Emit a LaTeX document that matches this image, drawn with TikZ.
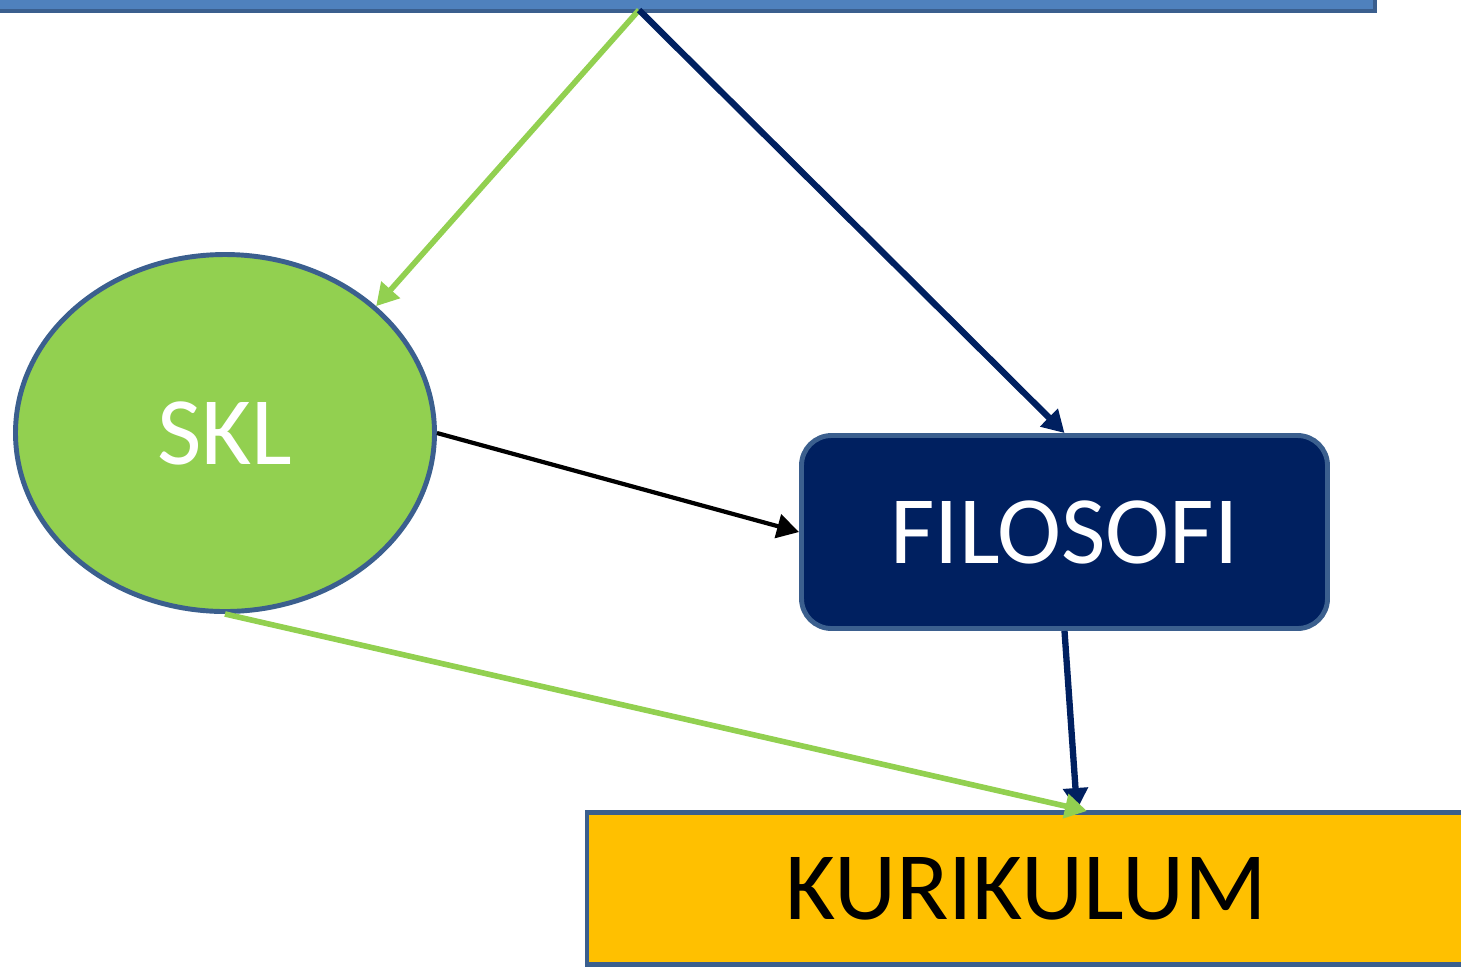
\documentclass[tikz,border=0pt]{standalone}
\usepackage{fontspec}
\setmainfont{Carlito}
\usetikzlibrary{arrows.meta, shapes.geometric, positioning}
\definecolor{edgeblue}{HTML}{3B5F8E}
\definecolor{skyblue}{HTML}{4F81BD}
\definecolor{leaf}{HTML}{92D050}
\definecolor{navy}{HTML}{002060}
\definecolor{gold}{HTML}{FFC000}

\begin{document}
\begin{tikzpicture}[
      box/.style = {draw = edgeblue, line width = 1.4pt, inner sep = 0pt, font = \fontsize{27.5}{32}\selectfont},
      link/.style = {-{Triangle[length = 2.2mm, width = 2.4mm]}, line width = 1.6pt}]
      \clip (0, 0) rectangle (14.61, -9.66);
      \node[box, fill = skyblue, minimum width = 13.85cm, minimum height = 1cm] (head) at (6.825, 0.39) {};
      \node[box, ellipse, fill = leaf, text = white, minimum width = 4.19cm, minimum height = 3.57cm] (skl) at (2.25, -4.33) {\raisebox{-0.4ex}{SKL}};
      \node[box, rounded corners = 0.3cm, fill = navy, text = white, minimum width = 5.26cm, minimum height = 1.93cm] (filo) at (10.645, -5.32) {FILOSOFI};
      \node[box, fill = gold, minimum width = 8.78cm, minimum height = 1.52cm] (kuri) at (10.26, -8.885) {KURIKULUM};
      \coordinate (split) at (6.39, -0.1);
      \coordinate (fin) at (10.77, -8.1);
      \coordinate (kin) at (10.87, -8.11);
      \draw[link, leaf] (split) -- (skl.40);
      \draw[link, navy, line width = 1.8pt] (split) -- (filo.north);
      \draw[link, black, line width = 1.2pt] (skl.east) -- (filo.west);
      \draw[link, navy, line width = 1.8pt] (filo.south) -- (fin);
      \draw[link, leaf] (skl.south) -- (kin);
    \end{tikzpicture}
\end{document}
